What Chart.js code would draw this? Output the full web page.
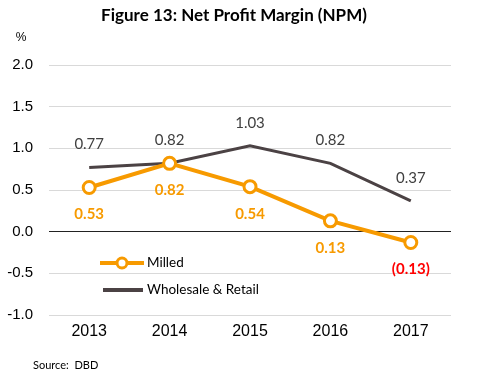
<!DOCTYPE html>
<html><head><meta charset="utf-8">
<script src="https://cdn.jsdelivr.net/npm/chart.js@4"></script>
<style>html,body{margin:0;padding:0;background:#fff}#wrap{width:496px;height:380px;position:relative}</style>
</head><body><div id="wrap"><canvas id="c" width="496" height="380"></canvas></div>
<script>
const categories = ['2013','2014','2015','2016','2017'];
const milled = [0.53, 0.82, 0.54, 0.13, -0.13];
const wholesale = [0.77, 0.82, 1.03, 0.82, 0.37];
const milledLabels = ['0.53','0.82','0.54','0.13','(0.13)'];
const wholesaleLabels = ['0.77','0.82','1.03','0.82','0.37'];
const yTicks = [2.0, 1.5, 1.0, 0.5, 0.0, -0.5, -1.0];

const ORANGE = '#F79A00';
const GREY = '#4B4244';
const LABELFONT = 'Lato, "Open Sans", sans-serif';

const deco = {
  id: 'deco',
  afterDatasetsDraw(chart) {
    const ctx = chart.ctx;
    const xs = chart.scales.x, ys = chart.scales.y;
    ctx.save();
    ctx.textAlign = 'center';
    ctx.textBaseline = 'middle';
    // wholesale labels above
    ctx.font = '15px ' + LABELFONT;
    ctx.fillStyle = '#404040';
    wholesale.forEach((v, i) => {
      ctx.fillText(wholesaleLabels[i], xs.getPixelForValue(i), ys.getPixelForValue(v) - 23);
    });
    // milled labels below
    ctx.font = 'bold 15px ' + LABELFONT;
    milled.forEach((v, i) => {
      ctx.fillStyle = v < 0 ? '#FF0000' : ORANGE;
      ctx.fillText(milledLabels[i], xs.getPixelForValue(i), ys.getPixelForValue(v) + 27);
    });
    // title
    ctx.fillStyle = '#000';
    ctx.font = 'bold 17px ' + LABELFONT;
    ctx.fillText('Figure 13: Net Profit Margin (NPM)', 234, 16);
    ctx.font = '12px "Liberation Sans", Arial, sans-serif';
    ctx.fillText('%', 21, 38);
    // source
    ctx.textAlign = 'left';
    ctx.font = '11px ' + LABELFONT;
    ctx.fillText('Source:  DBD', 33, 365);
    // legend
    ctx.lineCap = 'butt';
    ctx.strokeStyle = ORANGE;
    ctx.lineWidth = 4;
    ctx.beginPath(); ctx.moveTo(100, 263); ctx.lineTo(144, 263); ctx.stroke();
    ctx.fillStyle = '#fff';
    ctx.lineWidth = 3;
    ctx.beginPath(); ctx.arc(122, 263, 5, 0, Math.PI * 2); ctx.fill(); ctx.stroke();
    ctx.strokeStyle = GREY;
    ctx.lineWidth = 4;
    ctx.beginPath(); ctx.moveTo(103, 290); ctx.lineTo(143, 290); ctx.stroke();
    ctx.fillStyle = '#000';
    ctx.font = '13.5px ' + LABELFONT;
    ctx.fillText('Milled', 147, 263);
    ctx.fillText('Wholesale & Retail', 147, 290);
    ctx.restore();
  }
};

new Chart(document.getElementById('c'), {
  type: 'line',
  data: {
    labels: categories,
    datasets: [
      { label: 'Wholesale & Retail', data: wholesale, borderColor: GREY, borderWidth: 3,
        pointRadius: 0, pointHoverRadius: 0, tension: 0, order: 2 },
      { label: 'Milled', data: milled, borderColor: ORANGE, borderWidth: 4,
        pointRadius: 6, pointBorderWidth: 3, pointBackgroundColor: '#fff', pointBorderColor: ORANGE,
        tension: 0, order: 1 }
    ]
  },
  options: {
    responsive: false,
    animation: false,
    layout: { padding: { top: 65, right: 45, bottom: 0, left: 0 } },
    plugins: { legend: { display: false }, tooltip: { enabled: false }, title: { display: false } },
    scales: {
      x: {
        offset: true,
        grid: { display: false, drawTicks: false },
        border: { display: false },
        ticks: { color: '#000', font: { family: '"Liberation Sans", Arial, sans-serif', size: 16 }, padding: 7 },
        afterFit(s) { s.height = 65; }
      },
      y: {
        min: -1, max: 2,
        afterBuildTicks(s) { s.ticks = yTicks.map(v => ({ value: v })); },
        grid: { drawTicks: false, color: c => (c.tick && c.tick.value === 0) ? '#222' : '#D9D9D9', lineWidth: 1 },
        border: { display: false },
        ticks: { color: '#000', padding: 16, font: { family: '"Liberation Sans", Arial, sans-serif', size: 15 },
          callback: v => Number(v).toFixed(1) },
        afterFit(s) { s.width = 49; }
      }
    }
  },
  plugins: [deco]
});
</script></body></html>
